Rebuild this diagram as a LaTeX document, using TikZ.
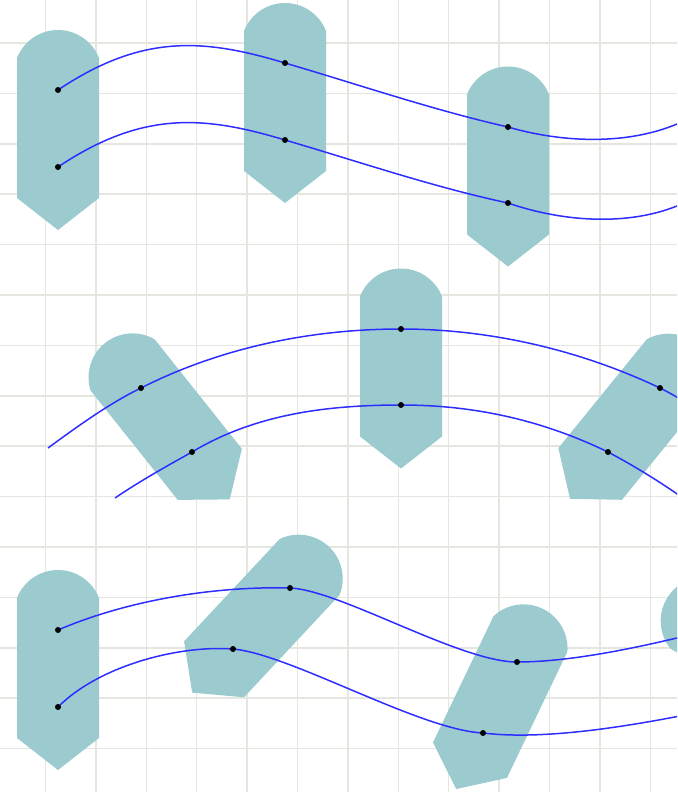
\documentclass[tikz,border=0pt]{standalone}
\usetikzlibrary{calc}
\definecolor{pegcol}{RGB}{155,203,206}
\definecolor{wirecol}{RGB}{45,45,255}
\definecolor{gridcol}{RGB}{230,230,225}
\tikzset{
  gridline/.style={draw=gridcol, line width=1.5pt},
  wire/.style={draw=wirecol, line width=1.5pt},
  dotmark/.style={fill=black},
  pegbody/.style={fill=pegcol},
}
\newcommand\pegbetween[2]{%
  \pgfpointdiff{\pgfpointanchor{#1}{center}}{\pgfpointanchor{#2}{center}}%
  \pgfgetlastxy{\pegdx}{\pegdy}%
  \pgfmathsetmacro\pegang{atan2(\pegdx,0pt-(\pegdy))}%
  \begin{scope}[shift={($(#1)!0.5!(#2)$)}, rotate=\pegang]
    \path[pegbody] (-41,-70.5) .. controls (-34.4,-87.4) and (-18.1,-98.5) .. (0,-98.5)
      .. controls (18.1,-98.5) and (34.4,-87.4) .. (41,-70.5)
      -- (41,69.5) -- (0,101.5) -- (-41,69.5) -- cycle;
  \end{scope}}
\begin{document}
\begin{tikzpicture}[x=1pt,y=-1pt]
\useasboundingbox (0,0) rectangle (677,792);
\clip (0,0) rectangle (677,792);
% grid
\foreach \gx in {0,...,12} \draw[gridline] ({45.5+50.4*\gx},0) -- ({45.5+50.4*\gx},792);
\foreach \gy in {0,...,14} \draw[gridline] (0,{43+50.4*\gy}) -- (677,{43+50.4*\gy});
% points
\coordinate (a1) at (58,90);   \coordinate (b1) at (58,167);
\coordinate (a2) at (285,63);  \coordinate (b2) at (285,140);
\coordinate (a3) at (508,127); \coordinate (b3) at (508,203);
\coordinate (aend) at (677,124); \coordinate (bend) at (677,206);
\coordinate (c1) at (141,388); \coordinate (d1) at (192,452);
\coordinate (c2) at (401,329); \coordinate (d2) at (401,405);
\coordinate (c3) at (660,388); \coordinate (d3) at (608,452);
\coordinate (cstart) at (48,448); \coordinate (cend) at (752,448);
\coordinate (dstart) at (115,498); \coordinate (dend) at (690,503);
\coordinate (e1) at (58,630);  \coordinate (f1) at (58,707);
\coordinate (e2) at (290,588); \coordinate (f2) at (233,649);
\coordinate (e3) at (517,662); \coordinate (f3) at (483,733);
\coordinate (e4) at (717,628); \coordinate (f4) at (787,668);
\coordinate (fend) at (690,714);
% pegs
\pegbetween{a1}{b1}\pegbetween{a2}{b2}\pegbetween{a3}{b3}
\pegbetween{c1}{d1}\pegbetween{c2}{d2}\pegbetween{c3}{d3}
\pegbetween{e1}{f1}\pegbetween{e2}{f2}\pegbetween{e3}{f3}\pegbetween{e4}{f4}
% wires
\draw[wire] (a1) .. controls (143,33) and (205,39) .. (a2)
  .. controls (360,85) and (433,110) .. (a3)
  .. controls (563,143) and (627,145) .. (aend);
\draw[wire] (b1) .. controls (143,110) and (205,116) .. (b2)
  .. controls (360,162) and (433,187) .. (b3)
  .. controls (563,222) and (627,226) .. (bend);
\draw[wire] (cstart) .. controls (78,426) and (110,403) .. (c1)
  .. controls (220,348) and (310,329) .. (c2)
  .. controls (490,329) and (580,350) .. (c3)
  .. controls (690,403) and (722,426) .. (cend);
\draw[wire] (dstart) .. controls (140,481) and (167,466) .. (d1)
  .. controls (252,416) and (321,405) .. (d2)
  .. controls (481,405) and (548,423) .. (d3)
  .. controls (638,468) and (665,485) .. (dend);
\draw[wire] (e1) .. controls (128,600) and (215,586) .. (e2)
  .. controls (340,590) and (460,662) .. (e3)
  .. controls (570,662) and (640,648) .. (e4);
\draw[wire] (f1) .. controls (100,665) and (180,645) .. (f2)
  .. controls (290,654) and (420,730) .. (f3)
  .. controls (540,740) and (620,728) .. (fend);
% dots
\foreach \p in {a1,b1,a2,b2,a3,b3,c1,d1,c2,d2,c3,d3,e1,f1,e2,f2,e3,f3}
  \fill[dotmark] (\p) circle[radius=3pt];
\end{tikzpicture}
\end{document}
